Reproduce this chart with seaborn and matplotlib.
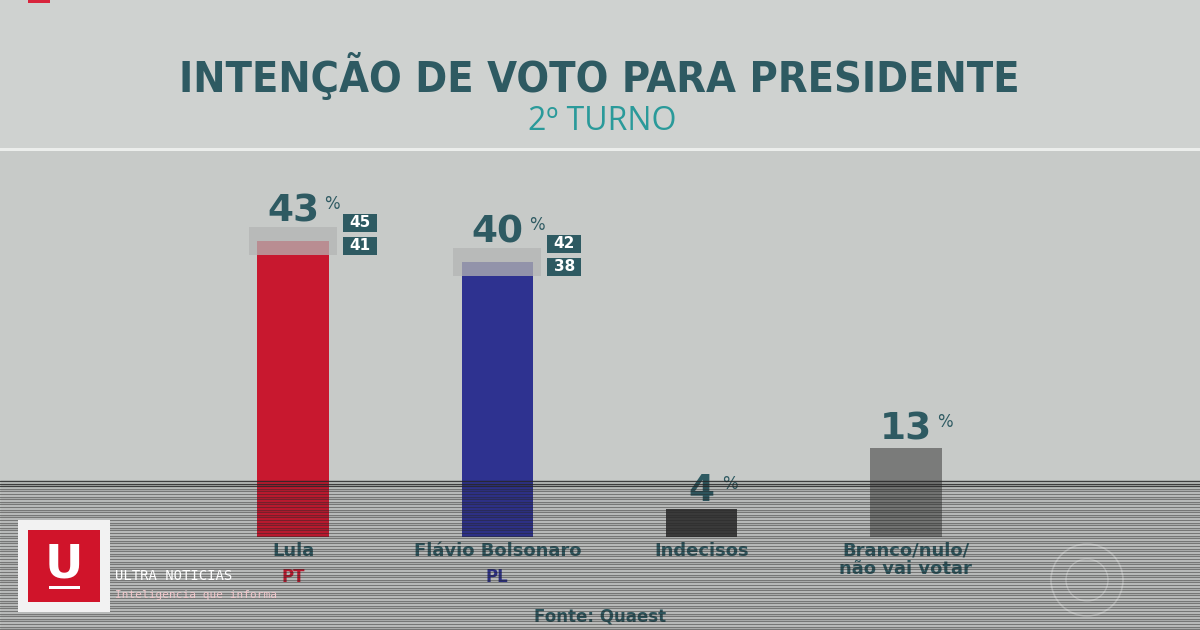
import numpy as np
import pandas as pd
import matplotlib
matplotlib.use("Agg")
import matplotlib.pyplot as plt
from matplotlib.patches import Rectangle, Circle
from matplotlib.lines import Line2D
import seaborn as sns

# ---------------- data ----------------
categories = ["Lula", "Flávio Bolsonaro", "Indecisos", "Branco/nulo/\nnão vai votar"]
parties = ["PT", "PL", "", ""]
values = [43, 40, 4, 13]
upper = [45, 42, None, None]
lower = [41, 38, None, None]
bar_colors = ["#c8182f", "#2e3290", "#3d3d3d", "#7a7b7a"]
party_colors = ["#c8182f", "#2e3290", "#000000", "#000000"]

title = "INTENÇÃO DE VOTO PARA PRESIDENTE"
subtitle = "2º TURNO"
source = "Fonte: Quaest"

TEAL = "#2e5a62"
SUBTEAL = "#2a9a9a"

sns.set_theme(style="white")
plt.rcParams["font.family"] = ["DejaVu Sans"]

W, H = 1200, 630
fig = plt.figure(figsize=(12, 6.3), dpi=100)
fig.patch.set_facecolor("#c7cac8")

def fx(x):
    return x / W

def fy(y):
    return 1 - y / H

# background: header band lighter and separator line
fig.add_artist(Rectangle((0, fy(148)), 1, 148 / H, transform=fig.transFigure,
                         facecolor="#cfd2d0", edgecolor="none", zorder=0))
fig.add_artist(Rectangle((0, fy(151)), 1, 3 / H, transform=fig.transFigure,
                         facecolor="#eceeec", edgecolor="none", zorder=0))
# small red mark top left
fig.add_artist(Rectangle((fx(28), fy(3)), 22 / W, 3 / H, transform=fig.transFigure,
                         facecolor="#d8243c", edgecolor="none", zorder=1))

# ---------------- axes ----------------
px_per_unit = 6.88
spacing = 204.3
left_px = 293 - 0.5 * spacing
ax_h_px = 60 * px_per_unit
ax = fig.add_axes([fx(left_px), (H - 537) / H, 4 * spacing / W, ax_h_px / H])
ax.set_facecolor("none")

df = pd.DataFrame({"cat": categories, "val": values})
sns.barplot(data=df, x="cat", y="val", hue="cat", palette=bar_colors,
            legend=False, width=0.35, ax=ax, saturation=1, zorder=2,
            edgecolor="none", linewidth=0)
ax.set_xlim(-0.5, 3.5)
ax.set_ylim(0, 60)
ax.axis("off")

unit_x = 1 / spacing  # data units per pixel in x
unit_y = 1 / px_per_unit

for i, (v, u, l) in enumerate(zip(values, upper, lower)):
    top = v
    if u is not None:
        # margin-of-error band
        bw = 88 * unit_x
        ax.add_patch(Rectangle((i - bw / 2, l), bw, u - l, facecolor="#b4b5b4",
                               alpha=0.75, edgecolor="none", zorder=3))
        top = u
        # range boxes
        bx = i + (44 + 6) * unit_x
        bwid = 34 * unit_x
        bh = 18 * unit_y
        gap = 5 * unit_y
        ax.add_patch(Rectangle((bx, l), bwid, bh, facecolor=TEAL, edgecolor="none",
                               zorder=4, clip_on=False))
        ax.text(bx + bwid / 2, l + bh / 2, str(l), color="white", fontsize=11,
                fontweight="bold", ha="center", va="center", zorder=5, clip_on=False)
        ax.add_patch(Rectangle((bx, l + bh + gap), bwid, bh, facecolor=TEAL,
                               edgecolor="none", zorder=4, clip_on=False))
        ax.text(bx + bwid / 2, l + bh + gap + bh / 2, str(u), color="white", fontsize=11,
                fontweight="bold", ha="center", va="center", zorder=5, clip_on=False)
    # big percentage value
    off = 6 if u is not None else 8
    ax.annotate(str(v), xy=(i, top), xytext=(0, off * 0.72), textcoords="offset points",
                ha="center", va="baseline", fontsize=27, fontweight="bold", color=TEAL,
                zorder=5, annotation_clip=False)
    nd = len(str(v))
    ax.annotate("%", xy=(i, top), xytext=((nd * 10.5 + 14) * 0.72 + 3, off * 0.72 + 9),
                textcoords="offset points", ha="center", va="baseline", fontsize=12,
                color=TEAL, zorder=5, annotation_clip=False)
    # category labels
    ax.annotate(categories[i], xy=(i, 0), xytext=(0, -3.5), textcoords="offset points",
                ha="center", va="top", fontsize=13, fontweight="bold", color=TEAL,
                linespacing=1.0, annotation_clip=False)
    if parties[i]:
        ax.annotate(parties[i], xy=(i, 0), xytext=(0, -22), textcoords="offset points",
                    ha="center", va="top", fontsize=12, fontweight="bold",
                    color=party_colors[i], annotation_clip=False)

# ---------------- titles ----------------
fig.text(fx(599), fy(77), title, ha="center", va="center", fontsize=31,
         fontweight="heavy", color=TEAL, fontstretch="condensed",
         family=["DejaVu Sans"])
fig.text(fx(602), fy(122), subtitle, ha="center", va="center", fontsize=23,
         color=SUBTEAL, family=["Open Sans", "DejaVu Sans"])
fig.text(fx(600), fy(616), source, ha="center", va="center", fontsize=12,
         fontweight="bold", color=TEAL)

# ---------------- scanline overlay ----------------
for k, yy in enumerate(np.arange(481, 630, 2.6)):
    a = 0.85 if yy < 487 else 0.5
    fig.add_artist(Line2D([0, 1], [fy(yy), fy(yy)], transform=fig.transFigure,
                          color="#262626", lw=1.0, alpha=a, zorder=6))

# ---------------- watermark logo ----------------
fig.add_artist(Rectangle((fx(18), fy(612)), 92 / W, 92 / H, transform=fig.transFigure,
                         facecolor="#f2f2f2", edgecolor="none", zorder=7))
fig.add_artist(Rectangle((fx(28), fy(602)), 72 / W, 72 / H, transform=fig.transFigure,
                         facecolor="#d0142a", edgecolor="none", zorder=8))
fig.text(fx(64), fy(565), "U", ha="center", va="center", fontsize=34, fontweight="bold",
         color="white", zorder=9)
fig.add_artist(Rectangle((fx(49), fy(589)), 31 / W, 3 / H, transform=fig.transFigure,
                         facecolor="white", edgecolor="none", zorder=9))
fig.text(fx(115), fy(576), "ULTRA NOTICIAS", ha="left", va="center", fontsize=10,
         color="white", family=["DejaVu Sans Mono"], zorder=9)
fig.text(fx(115), fy(595), "Inteligencia que informa", ha="left", va="center",
         fontsize=8, color="#f0c8cc", family=["DejaVu Sans Mono"], zorder=9)

# faint broadcaster circle logo (drawn in inches to stay round)
for r, lw in [(0.36, 1.2), (0.21, 1.0)]:
    fig.add_artist(Circle((10.87, 0.50), r, transform=fig.dpi_scale_trans,
                          facecolor="none", edgecolor="white", alpha=0.25, lw=lw,
                          zorder=7))

fig.savefig("out.png", dpi=100, facecolor=fig.get_facecolor())
